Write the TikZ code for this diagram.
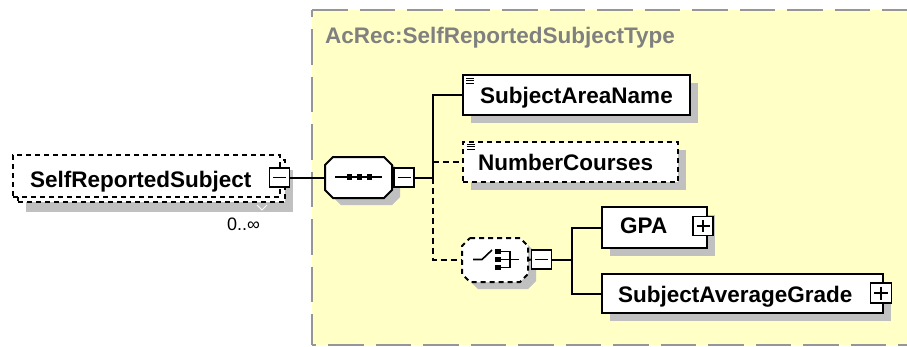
\documentclass[tikz,border=0pt]{standalone}
\usepackage{fontspec}
\setmainfont{Liberation Sans}
\usetikzlibrary{shadows,calc}
\definecolor{bgy}{RGB}{255,255,198}
\definecolor{shadowc}{RGB}{192,192,192}
\definecolor{frameg}{RGB}{150,150,150}
\definecolor{titleg}{RGB}{128,128,128}
\newcommand\drawoct[6]{%
  \path[#1] (#2+#6,#3) -- (#4-#6,#3) -- (#4,#3+#6) -- (#4,#5-#6) -- (#4-#6,#5) -- (#2+#6,#5) -- (#2,#5-#6) -- (#2,#3+#6) -- cycle;}
\begin{document}
\begin{tikzpicture}[x=1pt,y=-1pt,
  box/.style={draw, fill=white, line width=2pt, inner sep=0pt, rectangle},
  optbox/.style={box, dash pattern=on 5pt off 4pt},
  shad/.style={general shadow={shadow xshift=8pt, shadow yshift=-8pt, fill=shadowc}},
  lbl/.style={anchor=base west, inner sep=0pt, font=\fontsize{22.5}{27}\selectfont\bfseries},
  conn/.style={line width=2pt},
  optconn/.style={conn, dash pattern=on 6pt off 4pt},
  pm/.style={draw, fill=white, line width=1.5pt, inner sep=0pt, minimum width=20pt, minimum height=19pt},
  minussign/.style={pm, path picture={\draw[line width=1.4pt] ($(path picture bounding box.west)+(3.5,0)$) -- ($(path picture bounding box.east)+(-3.5,0)$);}},
  plussign/.style={pm, path picture={\draw[line width=1.4pt] ($(path picture bounding box.west)+(3.5,0)$) -- ($(path picture bounding box.east)+(-3.5,0)$) ($(path picture bounding box.north)+(0,3.5)$) -- ($(path picture bounding box.south)+(0,-3.5)$);}},
  hollow/.style={inner sep=0pt, minimum width=#1}
]
\useasboundingbox (0,0) rectangle (907,346);
\clip (0,0) rectangle (907,346);
% background type box
\fill[bgy] (312,10) rectangle (930,345);
\draw[frameg, line width=2pt, dash pattern=on 35.5pt off 12pt] (312,10) -- (930,10);
\draw[frameg, line width=2pt, dash pattern=on 35.5pt off 12pt, dash phase=28.5pt] (312,10) -- (312,345);
\draw[frameg, line width=2pt, dash pattern=on 35.5pt off 12pt, dash phase=31.5pt] (312,345) -- (930,345);
\node[lbl, text=titleg] (title) at (325,43) {AcRec:SelfReportedSubjectType};

% root element (multiple occurrence, optional)
\fill[shadowc] (26,170) rectangle (293,212);
\node[optbox, minimum width=267pt, minimum height=42pt] (elback) at (151.5,181) {};
\node[optbox, minimum width=267pt, minimum height=42pt] (el) at (146.5,176) {};
\node[lbl] (eltext) at (30,187) {SelfReportedSubject};
\node[minussign] (elminus) at (279.5,177.5) {};
\draw[white, line width=1pt] (257,205) -- (262,210) -- (267,205);
\node[anchor=base west, inner sep=0pt, font=\fontsize{18}{22}\selectfont] (occ) at (227,230) {0..∞};

% sequence compositor
\node[hollow=67pt, minimum height=41pt] (seq) at (358.5,177.5) {};
\drawoct{fill=shadowc}{333}{164}{400}{205}{8}
\drawoct{draw, fill=white, line width=2pt}{325}{157}{392}{198}{8}
\draw[line width=1.6pt] (335,177) -- (382,177);
\foreach \sx in {349.5,359.5,369.5}
  \fill (\sx-2.8,174.2) rectangle (\sx+2.8,179.8);
\node[minussign] (seqminus) at (404,177.5) {};
\draw[conn] (elminus.east) -- (seq.west);
\draw[conn] (seq.east) -- (seqminus.west);

% children of sequence
\coordinate (b1) at (433,177.5);
\node[box, shad, minimum width=227pt, minimum height=40pt] (san) at (576.5,95) {};
\node[lbl] (santext) at (480,103) {SubjectAreaName};
\draw[line width=1pt] (466,78) -- (474,78) (466,80.5) -- (474,80.5) (466,83) -- (474,83);

\node[optbox, shad, minimum width=215pt, minimum height=40pt] (nc) at (570.5,162) {};
\node[lbl] (nctext) at (478,170) {NumberCourses};
\draw[line width=1pt] (467,144) -- (475,144) (467,146.5) -- (475,146.5) (467,149) -- (475,149);

\draw[conn] (seqminus.east) -- (b1);
\draw[conn] (b1) |- (san.west);
\draw[optconn] (b1 |- nc.west) -- (nc.west);

% choice compositor
\node[hollow=66pt, minimum height=44pt] (ch) at (495,260) {};
\drawoct{fill=shadowc}{470}{245}{536}{289}{8}
\drawoct{draw, fill=white, line width=2pt, dash pattern=on 5pt off 4pt}{462}{238}{528}{282}{8}
\draw[line width=1.6pt] (473,259.5) -- (482,259.5) -- (492,250);
\foreach \sy in {251.5,259.5,267.5}
  \fill (495,\sy-2.8) rectangle (500.5,\sy+2.8);
\draw[line width=1.5pt] (500,251.5) -- (510,251.5) -- (510,267.5) -- (500,267.5)
  (500,259.5) -- (519,259.5);
\node[minussign] (chminus) at (541.5,259.5) {};
\draw[optconn] (b1) |- (ch.west);
\draw[conn] (ch.east) -- (chminus.west);

% children of choice
\coordinate (b2) at (572,259.5);
\node[box, shad, minimum width=105pt, minimum height=41pt] (gpa) at (654.5,227.5) {};
\node[lbl] (gpatext) at (620,233) {GPA};
\node[plussign] (gpaplus) at (703,226) {};
\node[box, shad, minimum width=281pt, minimum height=39pt] (sag) at (742.5,293.5) {};
\node[lbl] (sagtext) at (618,302) {SubjectAverageGrade};
\node[plussign, minimum width=21pt, minimum height=20pt] (sagplus) at (881,293) {};
\draw[conn] (chminus.east) -- (b2);
\draw[conn] (b2) |- (gpa.west);
\draw[conn] (b2) |- (sag.west);
\end{tikzpicture}
\end{document}
